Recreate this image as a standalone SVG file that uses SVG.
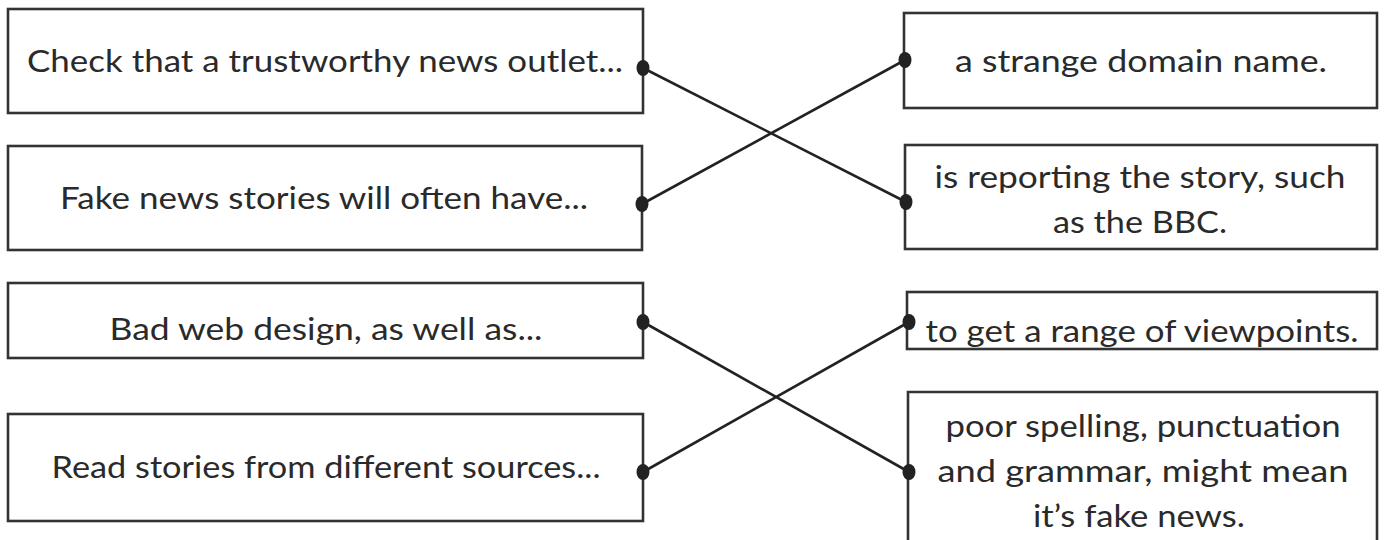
<svg xmlns="http://www.w3.org/2000/svg" width="1385" height="540" viewBox="0 0 1385 540">
<style>
.box{fill:#fff;stroke:#333;stroke-width:2.6}
.t{font-family:Lato,"Open Sans","DejaVu Sans",sans-serif;font-size:30px;fill:#2a2a2a;text-anchor:middle}
.c{stroke:#222;stroke-width:2.6;fill:none}
.dot{fill:#222}
</style>
<rect width="1385" height="540" fill="#fff"/>
<g id="connectors">
<line class="c" x1="643" y1="68" x2="906" y2="202"/>
<line class="c" x1="642" y1="204" x2="905" y2="60"/>
<line class="c" x1="643" y1="322" x2="909" y2="472"/>
<line class="c" x1="643" y1="472" x2="909" y2="322"/>
</g>
<g id="left1">
<rect class="box" x="8" y="9" width="635" height="104"/>
<text class="t" x="325" y="72" textLength="596" lengthAdjust="spacingAndGlyphs">Check that a trustworthy news outlet...</text>
<ellipse class="dot" cx="643" cy="68" rx="6.5" ry="8"/>
</g>
<g id="left2">
<rect class="box" x="8" y="146" width="634" height="104"/>
<text class="t" x="324" y="209" textLength="528" lengthAdjust="spacingAndGlyphs">Fake news stories will often have...</text>
<ellipse class="dot" cx="642" cy="204" rx="6.5" ry="8"/>
</g>
<g id="left3">
<rect class="box" x="8" y="283" width="635" height="75"/>
<text class="t" x="326" y="340" textLength="433" lengthAdjust="spacingAndGlyphs">Bad web design, as well as...</text>
<ellipse class="dot" cx="643" cy="322" rx="6.5" ry="8"/>
</g>
<g id="left4">
<rect class="box" x="8" y="414" width="635" height="107"/>
<text class="t" x="326" y="478" textLength="549" lengthAdjust="spacingAndGlyphs">Read stories from different sources...</text>
<ellipse class="dot" cx="643" cy="472" rx="6.5" ry="8"/>
</g>
<g id="right1">
<rect class="box" x="904" y="13" width="473" height="95"/>
<text class="t" x="1141" y="72" textLength="372" lengthAdjust="spacingAndGlyphs">a strange domain name.</text>
<ellipse class="dot" cx="905" cy="60" rx="6.5" ry="8"/>
</g>
<g id="right2">
<rect class="box" x="905" y="145" width="472" height="104"/>
<text class="t" x="1140" y="188" textLength="411" lengthAdjust="spacingAndGlyphs">is reporting the story, such</text>
<text class="t" x="1140" y="233" textLength="174" lengthAdjust="spacingAndGlyphs">as the BBC.</text>
<ellipse class="dot" cx="906" cy="202" rx="6.5" ry="8"/>
</g>
<g id="right3">
<rect class="box" x="907" y="292" width="470" height="57"/>
<text class="t" x="1142" y="342" textLength="433" lengthAdjust="spacingAndGlyphs">to get a range of viewpoints.</text>
<ellipse class="dot" cx="909" cy="322" rx="6.5" ry="8"/>
</g>
<g id="right4">
<path class="box" d="M908 545 V392 H1377 V545"/>
<text class="t" x="1143" y="437" textLength="395" lengthAdjust="spacingAndGlyphs">poor spelling, punctuation</text>
<text class="t" x="1143" y="482" textLength="411" lengthAdjust="spacingAndGlyphs">and grammar, might mean</text>
<text class="t" x="1139" y="527" textLength="212" lengthAdjust="spacingAndGlyphs">it’s fake news.</text>
<ellipse class="dot" cx="909" cy="472" rx="6.5" ry="8"/>
</g>
</svg>
